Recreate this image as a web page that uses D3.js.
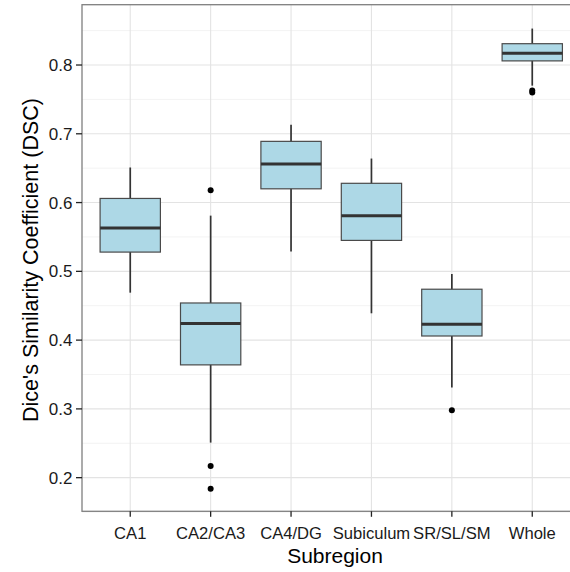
<!DOCTYPE html>
<html lang="en">
<head>
    <meta charset="UTF-8">
    <title>DSC by subregion</title>
    <script src="https://cdn.jsdelivr.net/npm/d3@7"></script>
    <style>
        body { margin: 0; background: #fff; }
        text { font-family: "Liberation Sans", Arial, sans-serif; }
    </style>
</head>
<body>
<script type="application/javascript">
    // values
    const categories = ['CA1', 'CA2/CA3', 'CA4/DG', 'Subiculum', 'SR/SL/SM', 'Whole'];
    const whiskerLow = [0.469, 0.251, 0.529, 0.439, 0.331, 0.770];
    const q1 = [0.528, 0.364, 0.620, 0.545, 0.406, 0.806];
    const median = [0.563, 0.424, 0.656, 0.581, 0.423, 0.817];
    const q3 = [0.606, 0.454, 0.689, 0.628, 0.474, 0.831];
    const whiskerHigh = [0.651, 0.581, 0.713, 0.664, 0.496, 0.853];
    const outliers = [[], [0.618, 0.217, 0.184], [], [], [0.298], [0.763, 0.760]];
    const yTicks = [0.2, 0.3, 0.4, 0.5, 0.6, 0.7, 0.8];
    const yMinor = [0.15, 0.25, 0.35, 0.45, 0.55, 0.65, 0.75, 0.85];

    const w = 570, h = 572;
    // panel edges (right edge runs past the window, as in the original)
    const pLeft = 82, pRight = 580.5, pTop = 4.7, pBottom = 511.3;

    let svg = d3.select('body')
        .append('svg')
        .attr('width', w)
        .attr('height', h);

    let xScale = d3.scalePoint()
        .domain(categories)
        .range([pLeft, pRight])
        .padding(0.6);

    let yScale = d3.scaleLinear()
        .domain([0.1511, 0.8877])
        .range([pBottom, pTop]);

    const boxW = xScale.step() * 0.75;

    // grid
    svg.selectAll('line.minor')
        .data(yMinor)
        .enter()
        .append('line')
        .attr('x1', pLeft).attr('x2', pRight)
        .attr('y1', d => yScale(d)).attr('y2', d => yScale(d))
        .attr('stroke', '#f3f3f3').attr('stroke-width', 1);
    svg.selectAll('line.major')
        .data(yTicks)
        .enter()
        .append('line')
        .attr('x1', pLeft).attr('x2', pRight)
        .attr('y1', d => yScale(d)).attr('y2', d => yScale(d))
        .attr('stroke', '#e3e3e3').attr('stroke-width', 1.1);
    svg.selectAll('line.vmajor')
        .data(categories)
        .enter()
        .append('line')
        .attr('x1', d => xScale(d)).attr('x2', d => xScale(d))
        .attr('y1', pTop).attr('y2', pBottom)
        .attr('stroke', '#e3e3e3').attr('stroke-width', 1.1);

    let groups = svg.selectAll('g.box')
        .data(categories)
        .enter()
        .append('g');

    // whiskers
    groups.append('line')
        .attr('x1', d => xScale(d)).attr('x2', d => xScale(d))
        .attr('y1', (d, i) => yScale(whiskerHigh[i]))
        .attr('y2', (d, i) => yScale(whiskerLow[i]))
        .attr('stroke', '#333').attr('stroke-width', 1.7);

    groups.append('rect')
        .attr('x', d => xScale(d) - boxW / 2)
        .attr('width', boxW)
        .attr('y', (d, i) => yScale(q3[i]))
        .attr('height', (d, i) => yScale(q1[i]) - yScale(q3[i]))
        .attr('fill', '#add8e6')
        .attr('stroke', '#4a4a4a').attr('stroke-width', 1.2);

    groups.append('line')
        .attr('x1', d => xScale(d) - boxW / 2).attr('x2', d => xScale(d) + boxW / 2)
        .attr('y1', (d, i) => yScale(median[i])).attr('y2', (d, i) => yScale(median[i]))
        .attr('stroke', '#333').attr('stroke-width', 3);

    groups.each(function (d, i) {
        d3.select(this).selectAll('circle')
            .data(outliers[i])
            .enter()
            .append('circle')
            .attr('cx', xScale(d))
            .attr('cy', v => yScale(v))
            .attr('r', 3)
            .attr('fill', '#000');
    });

    // panel border
    svg.append('rect')
        .attr('x', pLeft).attr('y', pTop)
        .attr('width', pRight - pLeft).attr('height', pBottom - pTop)
        .attr('fill', 'none').attr('stroke', '#7f7f7f').attr('stroke-width', 1.3);

    // y axis
    let yAxis = svg.append('g');
    yAxis.selectAll('line')
        .data(yTicks)
        .enter()
        .append('line')
        .attr('x1', pLeft - 6).attr('x2', pLeft)
        .attr('y1', d => yScale(d)).attr('y2', d => yScale(d))
        .attr('stroke', '#222').attr('stroke-width', 1.3);
    yAxis.selectAll('text')
        .data(yTicks)
        .enter()
        .append('text')
        .text(d => d.toFixed(1))
        .attr('x', pLeft - 9.5)
        .attr('y', d => yScale(d))
        .attr('dy', '0.36em')
        .attr('text-anchor', 'end')
        .attr('font-size', '17px')
        .attr('fill', '#1a1a1a');

    // x axis
    let xAxis = svg.append('g');
    xAxis.selectAll('line')
        .data(categories)
        .enter()
        .append('line')
        .attr('x1', d => xScale(d)).attr('x2', d => xScale(d))
        .attr('y1', pBottom).attr('y2', pBottom + 5.5)
        .attr('stroke', '#222').attr('stroke-width', 1.3);
    xAxis.selectAll('text')
        .data(categories)
        .enter()
        .append('text')
        .text(d => d)
        .attr('x', d => xScale(d))
        .attr('y', 539)
        .attr('text-anchor', 'middle')
        .attr('font-size', '16.6px')
        .attr('fill', '#1a1a1a');

    // titles
    svg.append('text')
        .text('Subregion')
        .attr('x', 335)
        .attr('y', 562.5)
        .attr('text-anchor', 'middle')
        .attr('font-size', '21px')
        .attr('fill', '#000');
    svg.append('text')
        .text("Dice's Similarity Coefficient (DSC)")
        .attr('transform', 'translate(38.3,260) rotate(-90)')
        .attr('text-anchor', 'middle')
        .attr('font-size', '21.5px')
        .attr('fill', '#000');
</script>
</body>
</html>
